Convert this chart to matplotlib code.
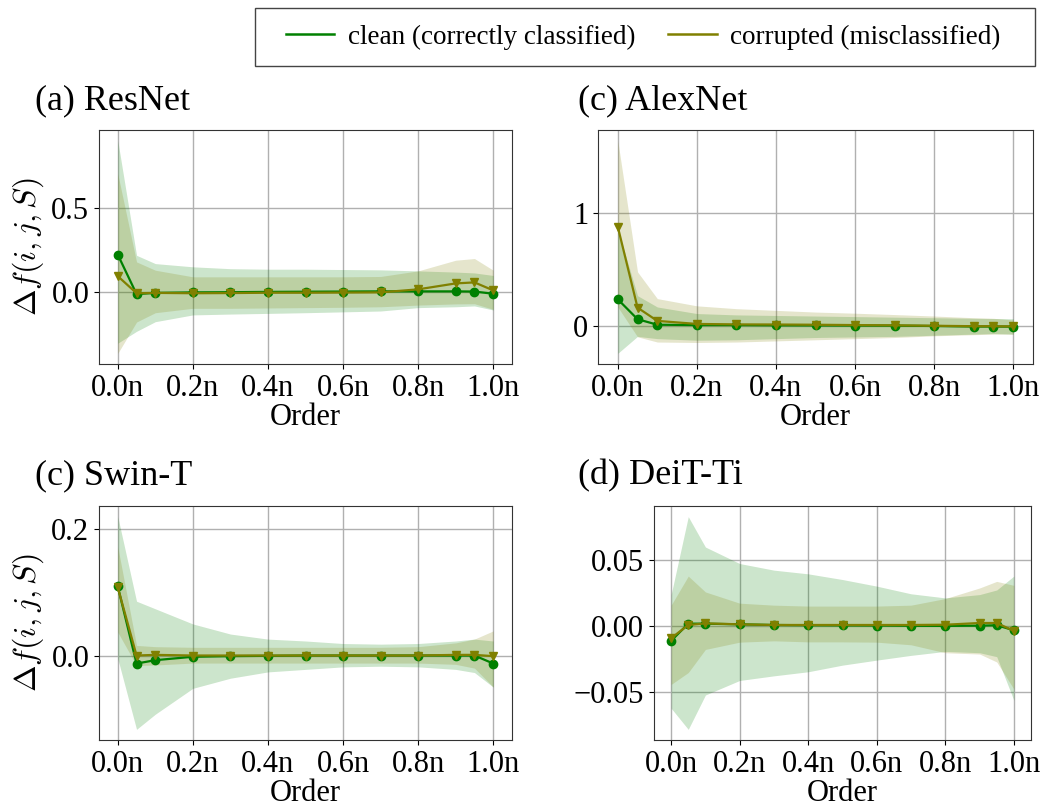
import matplotlib
matplotlib.use("Agg")
import matplotlib.pyplot as plt
from matplotlib.lines import Line2D
from matplotlib.patches import Rectangle

plt.rcParams['font.family'] = ['Liberation Serif', 'DejaVu Serif']
plt.rcParams['mathtext.fontset'] = 'cm'

# order positions (fraction of n)
orders = [0.0, 0.05, 0.1, 0.2, 0.3, 0.4, 0.5, 0.6, 0.7, 0.8, 0.9, 0.95, 1.0]
xtick_vals = [0.0, 0.2, 0.4, 0.6, 0.8, 1.0]
xtick_labels = ["0.0n", "0.2n", "0.4n", "0.6n", "0.8n", "1.0n"]

# ResNet
resnet_clean = [0.223, -0.01, -0.003, 0.0, 0.001, 0.003, 0.004, 0.005, 0.006, 0.006, 0.006, 0.005, -0.008]
resnet_clean_lo = [-0.30, -0.23, -0.173, -0.133, -0.128, -0.124, -0.12, -0.115, -0.11, -0.09, -0.085, -0.08, -0.104]
resnet_clean_hi = [0.896, 0.219, 0.17, 0.151, 0.14, 0.137, 0.137, 0.135, 0.133, 0.127, 0.12, 0.115, 0.10]
resnet_corr = [0.096, -0.005, -0.003, -0.005, -0.004, -0.002, -0.002, -0.001, 0.0, 0.018, 0.053, 0.059, 0.012]
resnet_corr_lo = [-0.36, -0.175, -0.12, -0.094, -0.094, -0.092, -0.09, -0.088, -0.085, -0.075, -0.068, -0.067, -0.10]
resnet_corr_hi = [0.70, 0.18, 0.131, 0.092, 0.092, 0.092, 0.092, 0.092, 0.094, 0.127, 0.19, 0.20, 0.131]

# AlexNet
alex_clean = [0.238, 0.062, 0.013, 0.01, 0.01, 0.008, 0.007, 0.006, 0.005, 0.002, -0.003, -0.003, -0.004]
alex_clean_lo = [-0.24, -0.09, -0.11, -0.124, -0.12, -0.11, -0.10, -0.095, -0.09, -0.08, -0.07, -0.065, -0.07]
alex_clean_hi = [0.86, 0.27, 0.17, 0.112, 0.10, 0.095, 0.09, 0.085, 0.08, 0.075, 0.07, 0.068, 0.066]
alex_corr = [0.88, 0.164, 0.047, 0.02, 0.016, 0.015, 0.013, 0.01, 0.008, 0.004, 0.0, 0.0, -0.002]
alex_corr_lo = [0.17, -0.094, -0.14, -0.144, -0.14, -0.13, -0.12, -0.11, -0.10, -0.085, -0.075, -0.07, -0.07]
alex_corr_hi = [1.64, 0.48, 0.244, 0.18, 0.155, 0.14, 0.125, 0.115, 0.103, 0.09, 0.075, 0.07, 0.055]

# Swin-T
swin_clean = [0.1095, -0.0127, -0.0074, -0.002, -0.001, -0.0005, 0.0, 0.0, 0.0, 0.0, 0.0, 0.0, -0.0127]
swin_clean_lo = [-0.005, -0.117, -0.093, -0.052, -0.036, -0.026, -0.022, -0.018, -0.017, -0.018, -0.022, -0.027, -0.05]
swin_clean_hi = [0.22, 0.086, 0.074, 0.05, 0.034, 0.026, 0.023, 0.019, 0.018, 0.019, 0.023, 0.026, 0.023]
swin_corr = [0.108, 0.0, 0.001, 0.0, 0.0, 0.0, 0.0, 0.0, 0.0, 0.0, 0.001, 0.001, -0.001]
swin_corr_lo = [0.037, -0.016, -0.015, -0.012, -0.012, -0.012, -0.012, -0.012, -0.012, -0.012, -0.014, -0.02, -0.05]
swin_corr_hi = [0.172, 0.016, 0.014, 0.013, 0.013, 0.013, 0.013, 0.013, 0.013, 0.014, 0.02, 0.026, 0.039]

# DeiT-Ti
deit_clean = [-0.011, 0.002, 0.002, 0.0015, 0.001, 0.0008, 0.0007, 0.0006, 0.0004, 0.0003, 0.0005, 0.0008, -0.003]
deit_clean_lo = [-0.062, -0.078, -0.052, -0.041, -0.0375, -0.0344, -0.0294, -0.0256, -0.022, -0.019, -0.02, -0.023, -0.056]
deit_clean_hi = [0.024, 0.083, 0.06, 0.0475, 0.0425, 0.0397, 0.0354, 0.0304, 0.0246, 0.0215, 0.024, 0.0275, 0.038]
deit_corr = [-0.009, 0.001, 0.0022, 0.0015, 0.001, 0.001, 0.001, 0.001, 0.001, 0.0012, 0.0025, 0.0025, -0.0035]
deit_corr_lo = [-0.044, -0.035, -0.0175, -0.012, -0.011, -0.0118, -0.0118, -0.012, -0.014, -0.02, -0.021, -0.027, -0.0475]
deit_corr_hi = [0.016, 0.038, 0.026, 0.0175, 0.016, 0.0153, 0.0153, 0.0153, 0.016, 0.021, 0.029, 0.034, 0.031]

panels = [
    ("(a) ResNet", resnet_clean, resnet_clean_lo, resnet_clean_hi, resnet_corr, resnet_corr_lo, resnet_corr_hi, [0.0, 0.5]),
    ("(c) AlexNet", alex_clean, alex_clean_lo, alex_clean_hi, alex_corr, alex_corr_lo, alex_corr_hi, [0, 1]),
    ("(c) Swin-T", swin_clean, swin_clean_lo, swin_clean_hi, swin_corr, swin_corr_lo, swin_corr_hi, [0.0, 0.2]),
    ("(d) DeiT-Ti", deit_clean, deit_clean_lo, deit_clean_hi, deit_corr, deit_corr_lo, deit_corr_hi, [-0.05, 0.0, 0.05]),
]

W, H = 1045, 807
# axes boxes in pixels: left, top, right, bottom
boxes = [(99, 130, 512, 364), (598, 130, 1033, 364), (99, 506, 512, 740), (654, 506, 1031, 740)]
title_pos = [(35, 101), (578, 101), (35, 476), (578, 476)]

fig = plt.figure(figsize=(W / 100, H / 100), dpi=100)

for i, (name, c, clo, chi, m, mlo, mhi, yt) in enumerate(panels):
    l, t, r, b = boxes[i]
    ax = fig.add_axes([l / W, 1 - b / H, (r - l) / W, (b - t) / H])
    ax.fill_between(orders, clo, chi, color='green', alpha=0.2, linewidth=0)
    ax.fill_between(orders, mlo, mhi, color='olive', alpha=0.2, linewidth=0)
    ax.plot(orders, c, color='green', marker='o', markersize=6, linewidth=1.6)
    ax.plot(orders, m, color='olive', marker='v', markersize=6, linewidth=1.6)
    ax.grid(True, color='#b0b0b0', linewidth=1)
    ax.set_axisbelow(True)
    ax.set_xticks(xtick_vals)
    ax.set_xticklabels(xtick_labels)
    ax.set_yticks(yt)
    ax.tick_params(labelsize=22)
    ax.set_xlabel("Order", fontsize=22, labelpad=0)
    if i % 2 == 0:
        ax.set_ylabel(r"$\Delta f(i,j,S)$", fontsize=23, labelpad=4)
    for s in ax.spines.values():
        s.set_color('#333333')
    tx, ty = title_pos[i]
    fig.text(tx / W, 1 - ty / H, name, fontsize=26, va='center', ha='left')

# legend box drawn separately so its padding can match the original
fig.patches.append(Rectangle((255 / W, 1 - 66 / H), 780 / W, 58 / H, transform=fig.transFigure,
                             facecolor='white', edgecolor='#444444', linewidth=1.0))
handles = [Line2D([], [], color='green', linewidth=1.8),
           Line2D([], [], color='olive', linewidth=1.8)]
fig.legend(handles, ["clean (correctly classified)", "corrupted (misclassified)"],
           loc='center', bbox_to_anchor=(643 / W, 1 - 37 / H), ncol=2,
           fontsize=19.5, frameon=False, handlelength=1.8,
           handletextpad=0.5, borderpad=0, columnspacing=1.2, borderaxespad=0)

fig.savefig("out.png", dpi=100)
